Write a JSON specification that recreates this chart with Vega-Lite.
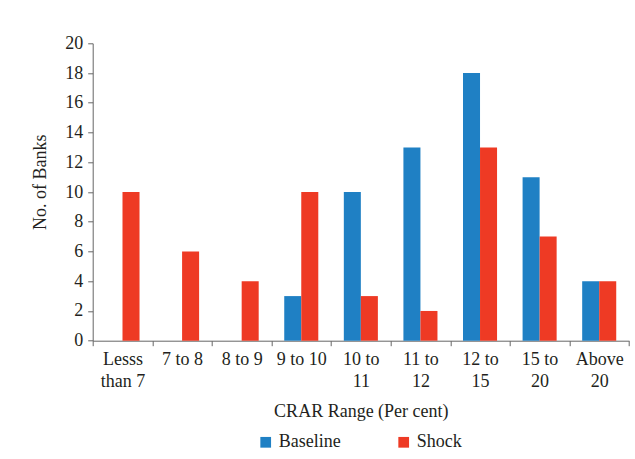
{
  "$schema": "https://vega.github.io/schema/vega-lite/v6.json",
  "width": 536.3,
  "height": 297.4,
  "autosize": {"type": "none"},
  "padding": {"left": 92.7, "top": 43.3, "right": 6, "bottom": 118.3},
  "background": "white",
  "config": {
    "font": "Liberation Serif",
    "view": {"stroke": null},
    "axis": {
      "domainColor": "#666666",
      "tickColor": "#666666",
      "labelColor": "#231f20",
      "titleColor": "#231f20",
      "labelFont": "Liberation Serif",
      "titleFont": "Liberation Serif",
      "labelFontSize": 18,
      "titleFontSize": 18,
      "titleFontWeight": "normal",
      "grid": false,
      "tickSize": 5
    },
    "legend": {
      "labelFont": "Liberation Serif",
      "labelFontSize": 18,
      "labelColor": "#231f20"
    }
  },
  "data": {
    "values": [
      {"range": "Lesss than 7", "scenario": "Baseline", "banks": 0},
      {"range": "Lesss than 7", "scenario": "Shock", "banks": 10},
      {"range": "7 to 8", "scenario": "Baseline", "banks": 0},
      {"range": "7 to 8", "scenario": "Shock", "banks": 6},
      {"range": "8 to 9", "scenario": "Baseline", "banks": 0},
      {"range": "8 to 9", "scenario": "Shock", "banks": 4},
      {"range": "9 to 10", "scenario": "Baseline", "banks": 3},
      {"range": "9 to 10", "scenario": "Shock", "banks": 10},
      {"range": "10 to 11", "scenario": "Baseline", "banks": 10},
      {"range": "10 to 11", "scenario": "Shock", "banks": 3},
      {"range": "11 to 12", "scenario": "Baseline", "banks": 13},
      {"range": "11 to 12", "scenario": "Shock", "banks": 2},
      {"range": "12 to 15", "scenario": "Baseline", "banks": 18},
      {"range": "12 to 15", "scenario": "Shock", "banks": 13},
      {"range": "15 to 20", "scenario": "Baseline", "banks": 11},
      {"range": "15 to 20", "scenario": "Shock", "banks": 7},
      {"range": "Above 20", "scenario": "Baseline", "banks": 4},
      {"range": "Above 20", "scenario": "Shock", "banks": 4}
    ]
  },
  "mark": {"type": "bar"},
  "encoding": {
    "x": {
      "field": "range",
      "type": "nominal",
      "sort": null,
      "scale": {"paddingInner": 0, "paddingOuter": 0},
      "axis": {
        "title": "CRAR Range (Per cent)",
        "labelAngle": 0,
        "tickBand": "extent",
        "labelBaseline": "top",
        "labelPadding": 5,
        "labelLineHeight": 21.6,
        "labelExpr": "isString(datum.value) && length(datum.value) > 7 ? [slice(datum.value, 0, 5), slice(datum.value, 6)] : datum.label",
        "titleY": 76,
        "titleBaseline": "alphabetic"
      }
    },
    "xOffset": {
      "field": "scenario",
      "type": "nominal",
      "sort": ["Baseline", "Shock"],
      "scale": {"paddingInner": 0, "paddingOuter": 0.75}
    },
    "y": {
      "field": "banks",
      "type": "quantitative",
      "scale": {"domain": [0, 20], "nice": false},
      "axis": {
        "title": "No. of Banks",
        "values": [0, 2, 4, 6, 8, 10, 12, 14, 16, 18, 20],
        "labelPadding": 5,
        "titleX": -47,
        "titleY": 138.4,
        "titleAngle": -90,
        "titleBaseline": "alphabetic",
        "titleAlign": "center"
      }
    },
    "color": {
      "field": "scenario",
      "type": "nominal",
      "scale": {"domain": ["Baseline", "Shock"], "range": ["#1f80c4", "#ee3a24"]},
      "legend": {
        "title": null,
        "orient": "none",
        "direction": "horizontal",
        "legendX": 164,
        "legendY": 390,
        "padding": 0,
        "symbolType": "square",
        "symbolSize": 115,
        "symbolStrokeWidth": 0,
        "labelOffset": 4,
        "columnPadding": 54
      }
    }
  }
}
